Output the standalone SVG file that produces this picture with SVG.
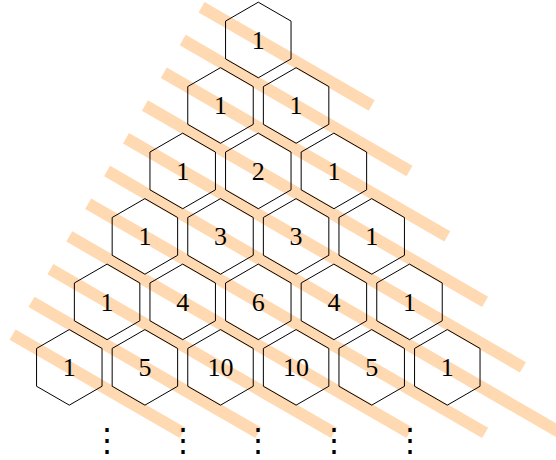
<svg xmlns="http://www.w3.org/2000/svg" width="556" height="460" viewBox="0 0 556 460">
<style>
.band{stroke:#FFD9B2;stroke-width:12;stroke-linecap:butt;fill:none}
.hex{fill:none;stroke:#000;stroke-width:1;stroke-linejoin:miter}
.num{font-family:"Liberation Serif","DejaVu Serif",serif;font-size:26px;text-anchor:middle;fill:#000}
.dots{font-family:"DejaVu Serif",serif;font-size:32px;text-anchor:middle;fill:#000}
</style>
<defs>
<polygon id="hx" class="hex" points="0,-37.8 32.74,-18.9 32.74,18.9 0,37.8 -32.74,18.9 -32.74,-18.9"/>
</defs>
<g id="connectors">
<line class="band" x1="201.6" y1="7.26" x2="371.7" y2="105.47"/>
<line class="band" x1="182.7" y1="40" x2="409.5" y2="170.94"/>
<line class="band" x1="163.8" y1="72.74" x2="447.3" y2="236.42"/>
<line class="band" x1="144.9" y1="105.47" x2="485.1" y2="301.88"/>
<line class="band" x1="126" y1="138.21" x2="522.9" y2="367.36"/>
<line class="band" x1="107.1" y1="170.94" x2="560.7" y2="432.82"/>
<line class="band" x1="88.2" y1="203.68" x2="485.1" y2="432.83"/>
<line class="band" x1="69.3" y1="236.41" x2="409.5" y2="432.82"/>
<line class="band" x1="50.4" y1="269.15" x2="333.9" y2="432.83"/>
<line class="band" x1="31.5" y1="301.88" x2="258.3" y2="432.82"/>
<line class="band" x1="12.6" y1="334.62" x2="182.7" y2="432.83"/>
</g>
<g id="n0-0"><use href="#hx" x="258.3" y="40"/><text class="num" x="258.3" y="48.8">1</text></g>
<g id="n1-0"><use href="#hx" x="220.5" y="105.47"/><text class="num" x="220.5" y="114.27">1</text></g>
<g id="n1-1"><use href="#hx" x="296.1" y="105.47"/><text class="num" x="296.1" y="114.27">1</text></g>
<g id="n2-0"><use href="#hx" x="182.7" y="170.94"/><text class="num" x="182.7" y="179.74">1</text></g>
<g id="n2-1"><use href="#hx" x="258.3" y="170.94"/><text class="num" x="258.3" y="179.74">2</text></g>
<g id="n2-2"><use href="#hx" x="333.9" y="170.94"/><text class="num" x="333.9" y="179.74">1</text></g>
<g id="n3-0"><use href="#hx" x="144.9" y="236.41"/><text class="num" x="144.9" y="245.21">1</text></g>
<g id="n3-1"><use href="#hx" x="220.5" y="236.41"/><text class="num" x="220.5" y="245.21">3</text></g>
<g id="n3-2"><use href="#hx" x="296.1" y="236.41"/><text class="num" x="296.1" y="245.21">3</text></g>
<g id="n3-3"><use href="#hx" x="371.7" y="236.41"/><text class="num" x="371.7" y="245.21">1</text></g>
<g id="n4-0"><use href="#hx" x="107.1" y="301.88"/><text class="num" x="107.1" y="310.68">1</text></g>
<g id="n4-1"><use href="#hx" x="182.7" y="301.88"/><text class="num" x="182.7" y="310.68">4</text></g>
<g id="n4-2"><use href="#hx" x="258.3" y="301.88"/><text class="num" x="258.3" y="310.68">6</text></g>
<g id="n4-3"><use href="#hx" x="333.9" y="301.88"/><text class="num" x="333.9" y="310.68">4</text></g>
<g id="n4-4"><use href="#hx" x="409.5" y="301.88"/><text class="num" x="409.5" y="310.68">1</text></g>
<g id="n5-0"><use href="#hx" x="69.3" y="367.35"/><text class="num" x="69.3" y="376.15">1</text></g>
<g id="n5-1"><use href="#hx" x="144.9" y="367.35"/><text class="num" x="144.9" y="376.15">5</text></g>
<g id="n5-2"><use href="#hx" x="220.5" y="367.35"/><text class="num" x="220.5" y="376.15">10</text></g>
<g id="n5-3"><use href="#hx" x="296.1" y="367.35"/><text class="num" x="296.1" y="376.15">10</text></g>
<g id="n5-4"><use href="#hx" x="371.7" y="367.35"/><text class="num" x="371.7" y="376.15">5</text></g>
<g id="n5-5"><use href="#hx" x="447.3" y="367.35"/><text class="num" x="447.3" y="376.15">1</text></g>
<g id="dots">
<text class="dots" x="107.1" y="451">⋮</text>
<text class="dots" x="182.7" y="451">⋮</text>
<text class="dots" x="258.3" y="451">⋮</text>
<text class="dots" x="333.9" y="451">⋮</text>
<text class="dots" x="409.5" y="451">⋮</text>
</g>
</svg>
